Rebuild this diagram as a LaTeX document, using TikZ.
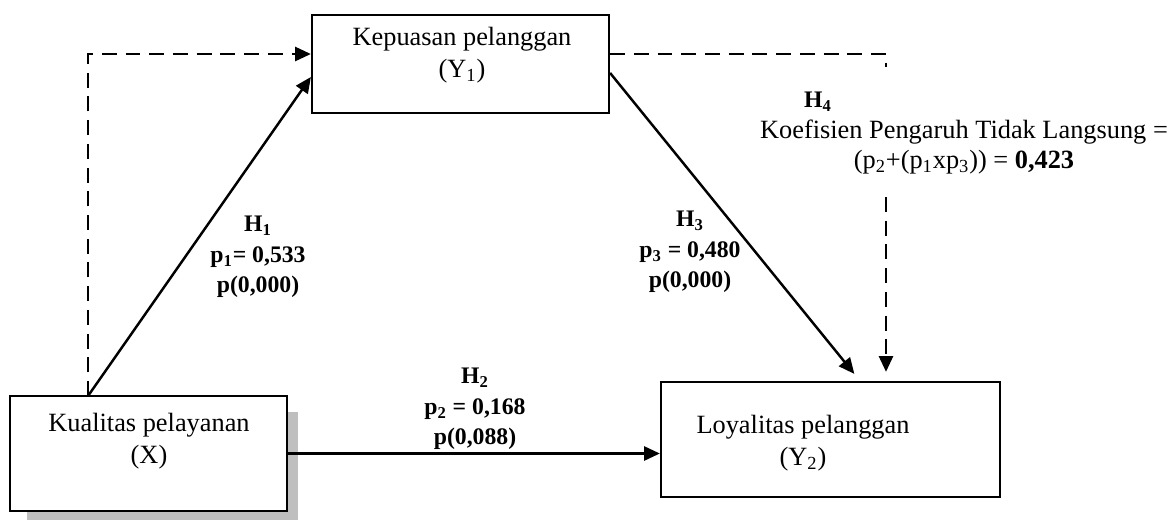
\documentclass[tikz,border=0pt]{standalone}
\usepackage{fontspec}
\setmainfont{Liberation Serif}
\usetikzlibrary{arrows.meta}

\begin{document}
\begin{tikzpicture}[x=0.02cm, y=-0.02cm, every node/.style={font=\fontsize{15}{18.5}\selectfont}, box/.style={rectangle, draw=black, line width=1.3pt, inner sep=0pt}, lbl/.style={align=center, inner sep=0pt}, hyp/.style={align=center, inner sep=0pt, font=\fontsize{13.5}{17.5}\selectfont\bfseries}, arr/.style={draw=black, line width=1.4pt, -{Triangle[length=9pt,width=8pt]}}, dasharr/.style={arr, dash pattern=on 8.5pt off 5pt}, dashline/.style={draw=black, line width=1.4pt, dash pattern=on 8.5pt off 5pt}]
			\useasboundingbox (0,0) rectangle (1173,521);
			\fill[black!25] (27,412) rectangle (298,520);
			
			\node[box, fill=white, minimum width=5.54cm, minimum height=2.3cm] (kx) at (148.5,453.5){};
			\node[box, minimum width=5.94cm, minimum height=1.96cm] (kp) at (460.5,64){};
			\node[box, minimum width=6.78cm, minimum height=2.3cm] (ly) at (830.5,439.5){};
			
			\node[lbl] (kxt) at (149,441){Kualitas pelayanan\\(X)};
			\node[lbl] (kpt) at (462,55){Kepuasan pelanggan\\(Y\textsubscript{1})};
			\node[lbl] (lyt) at (803,443){Loyalitas pelanggan\\(Y\textsubscript{2})};
			
			\node[hyp] (h1) at (258,257){H\textsubscript{1}\\p\textsubscript{1}= 0,533\\p(0,000)};
			\node[hyp] (h2) at (475,409){H\textsubscript{2}\\p\textsubscript{2} = 0,168\\p(0,088)};
			\node[hyp] (h3) at (690,252){H\textsubscript{3}\\p\textsubscript{3} = 0,480\\p(0,000)};
			\node[hyp] (h4) at (818,102){H\textsubscript{4}};
			\node[lbl, font=\fontsize{15}{17}\selectfont] (koef) at (964,147){Koefisien Pengaruh Tidak Langsung =\\(p\textsubscript{2}+(p\textsubscript{1}xp\textsubscript{3})) = \textbf{0,423}};
			
			\coordinate (xtop) at (88,396);
			\coordinate (c4) at (886,67);
			\coordinate (c5) at (886,197);
			
			\draw[dasharr] (xtop) |- ([yshift=0.2cm]kp.west);
			\draw[arr] (xtop) -- ([yshift=-0.26cm]kp.west);
			\draw[arr] (kx.east) -- (kx.east -| ly.west);
			\draw[arr, shorten >=0.18cm] ([yshift=-0.18cm]kp.east) -- (ly.north -| 860,0);
			\draw[dashline] ([yshift=0.2cm]kp.east) -| (c4);
			\draw[dasharr, shorten >=0.18cm] (c5) -- (c5 |- ly.north);
			\end{tikzpicture}
\end{document}
